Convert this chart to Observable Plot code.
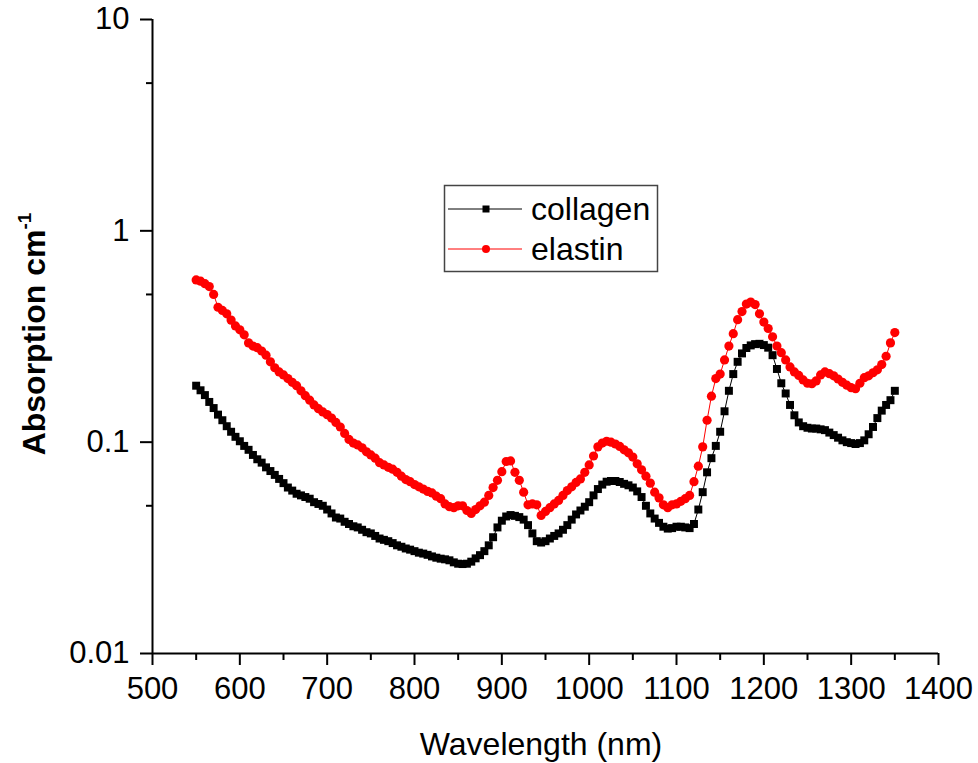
<!DOCTYPE html>
<html>
<head>
<meta charset="utf-8">
<script src="https://cdn.jsdelivr.net/npm/d3@7"></script>
<script src="https://cdn.jsdelivr.net/npm/@observablehq/plot@0.6"></script>
<style>
  html, body { margin: 0; padding: 0; background: white; overflow: hidden; }
  #chart { position: relative; width: 978px; height: 763px; }
</style>
</head>
<body>
<div id="chart"></div>
<script>
// ---- data ----
const wavelength = [
  550,555,560,565,570,575,580,585,590,595,
  600,605,610,615,620,625,630,635,640,645,
  650,655,660,665,670,675,680,685,690,695,
  700,705,710,715,720,725,730,735,740,745,
  750,755,760,765,770,775,780,785,790,795,
  800,805,810,815,820,825,830,835,840,845,
  850,855,860,865,870,875,880,885,890,895,
  900,905,910,915,920,925,930,935,940,945,
  950,955,960,965,970,975,980,985,990,995,
  1000,1005,1010,1015,1020,1025,1030,1035,1040,1045,
  1050,1055,1060,1065,1070,1075,1080,1085,1090,1095,
  1100,1105,1110,1115,1120,1125,1130,1135,1140,1145,
  1150,1155,1160,1165,1170,1175,1180,1185,1190,1195,
  1200,1205,1210,1215,1220,1225,1230,1235,1240,1245,
  1250,1255,1260,1265,1270,1275,1280,1285,1290,1295,
  1300,1305,1310,1315,1320,1325,1330,1335,1340,1345,
  1350
];
const collagen = [
  0.185,0.176,0.167,0.155,0.145,0.135,0.127,0.119,0.112,0.106,
  0.101,0.096,0.092,0.087,0.083,0.080,0.076,0.073,0.070,0.067,
  0.064,0.061,0.059,0.057,0.056,0.055,0.054,0.052,0.051,0.050,
  0.048,0.046,0.044,0.0435,0.042,0.041,0.040,0.0395,0.0385,0.0375,
  0.037,0.036,0.035,0.0345,0.034,0.0333,0.0325,0.032,0.0314,0.031,
  0.0305,0.030,0.0297,0.0293,0.0288,0.0284,0.0281,0.0279,0.0276,0.0270,
  0.0266,0.0265,0.0266,0.0272,0.0282,0.0292,0.0305,0.0325,0.0355,0.0395,
  0.0425,0.0445,0.0452,0.0448,0.0442,0.0430,0.0405,0.0370,0.0340,0.0335,
  0.0340,0.0350,0.0360,0.0370,0.0385,0.0405,0.0430,0.0455,0.0475,0.0495,
  0.052,0.056,0.060,0.063,0.065,0.0655,0.0655,0.0648,0.0635,0.0625,
  0.0610,0.0585,0.0550,0.0500,0.0460,0.0435,0.0415,0.0398,0.0390,0.0392,
  0.0398,0.0398,0.0395,0.0392,0.0410,0.0480,0.0580,0.0720,0.0840,0.0960,
  0.112,0.140,0.175,0.210,0.240,0.263,0.279,0.287,0.291,0.292,
  0.288,0.280,0.258,0.222,0.190,0.170,0.150,0.134,0.124,0.119,
  0.117,0.116,0.116,0.115,0.114,0.111,0.108,0.105,0.102,0.100,
  0.099,0.098,0.099,0.102,0.109,0.118,0.130,0.141,0.150,0.158,
  0.175
];
const elastin = [
  0.586,0.578,0.562,0.545,0.500,0.435,0.420,0.405,0.378,0.355,
  0.340,0.322,0.295,0.285,0.280,0.270,0.258,0.240,0.225,0.215,
  0.208,0.200,0.192,0.185,0.175,0.166,0.158,0.150,0.144,0.139,
  0.135,0.130,0.124,0.118,0.110,0.103,0.099,0.097,0.094,0.090,
  0.087,0.084,0.080,0.078,0.076,0.0745,0.072,0.069,0.0665,0.065,
  0.063,0.0615,0.060,0.0585,0.0575,0.0555,0.054,0.051,0.0495,0.0490,
  0.0500,0.0500,0.0475,0.0460,0.0480,0.0500,0.0520,0.0560,0.0610,0.0660,
  0.0725,0.0810,0.0815,0.0720,0.0660,0.0580,0.0505,0.0510,0.0505,0.0450,
  0.0470,0.0490,0.0510,0.0530,0.0560,0.0590,0.0615,0.0645,0.0670,0.0720,
  0.0780,0.0860,0.0950,0.0990,0.1010,0.1000,0.0980,0.0955,0.0920,0.0890,
  0.0850,0.0790,0.0740,0.0690,0.0640,0.0580,0.0545,0.0505,0.0490,0.0505,
  0.0510,0.0525,0.0540,0.0560,0.0650,0.0770,0.0950,0.1270,0.1650,0.2000,
  0.210,0.245,0.285,0.326,0.380,0.415,0.450,0.460,0.448,0.405,
  0.370,0.345,0.315,0.285,0.265,0.245,0.227,0.215,0.207,0.197,
  0.190,0.189,0.195,0.208,0.215,0.211,0.206,0.199,0.192,0.186,
  0.181,0.179,0.190,0.202,0.206,0.213,0.220,0.233,0.255,0.295,
  0.330
];
const seriesNames = ["collagen", "elastin"];
const seriesColors = ["#000000", "#ff0000"];
const xTicks = [500,600,700,800,900,1000,1100,1200,1300,1400];
const xMinorTicks = [550,650,750,850,950,1050,1150,1250,1350];
const yTicks = [0.01, 0.1, 1, 10];
const yTickLabels = ["0.01", "0.1", "1", "10"];
const yMinorTicks = [0.05, 0.5, 5];
const xLabel = "Wavelength (nm)";
const yLabelMain = "Absorption cm";
const yLabelSup = "-1";

// ---- build ----
const collagenData = wavelength.map((w, i) => ({w, v: collagen[i]}));
const elastinData = wavelength.map((w, i) => ({w, v: elastin[i]}));

const font = "'Liberation Sans', Arial, sans-serif";

const svg = Plot.plot({
  width: 978,
  height: 763,
  marginLeft: 152,
  marginRight: 40,
  marginTop: 19,
  marginBottom: 110,
  style: {fontFamily: font, fontSize: "30px", color: "black", background: "white"},
  x: {domain: [500, 1400]},
  y: {type: "log", domain: [0.01, 10]},
  marks: [
    Plot.axisX({ticks: xMinorTicks, tickSize: 7, tickFormat: () => "", strokeWidth: 2, label: null}),
    Plot.axisX({ticks: xTicks, tickSize: 12, tickPadding: 11, tickFormat: d => String(d), strokeWidth: 2, label: null, fontSize: 31}),
    Plot.axisY({ticks: yMinorTicks, tickSize: 6, tickFormat: () => "", strokeWidth: 2, label: null}),
    Plot.axisY({ticks: yTicks, tickSize: 12, tickPadding: 11, tickFormat: d => yTickLabels[yTicks.indexOf(d)], strokeWidth: 2, label: null, fontSize: 31}),
    Plot.ruleX([500], {strokeWidth: 2}),
    Plot.ruleY([0.01], {strokeWidth: 2}),
    Plot.line(collagenData, {x: "w", y: "v", stroke: seriesColors[0], strokeWidth: 1}),
    Plot.dot(collagenData, {x: "w", y: "v", symbol: "square", fill: seriesColors[0], r: 4.5}),
    Plot.line(elastinData, {x: "w", y: "v", stroke: seriesColors[1], strokeWidth: 1}),
    Plot.dot(elastinData, {x: "w", y: "v", symbol: "circle", fill: seriesColors[1], r: 4.6})
  ]
});

document.getElementById("chart").appendChild(svg);

const s = d3.select(svg);

// axis titles
s.append("text")
  .attr("x", 541).attr("y", 755)
  .attr("text-anchor", "middle")
  .attr("font-family", font)
  .attr("font-size", 32)
  .attr("fill", "black")
  .text(xLabel);

const yl = s.append("text")
  .attr("transform", "translate(45,334) rotate(-90)")
  .attr("text-anchor", "middle")
  .attr("font-family", font)
  .attr("font-size", 32)
  .attr("font-weight", "bold")
  .attr("fill", "black");
yl.append("tspan").text(yLabelMain);
yl.append("tspan").attr("font-size", 19).attr("dy", -14).text(yLabelSup);

// legend
const lg = s.append("g");
lg.append("rect")
  .attr("x", 444.5).attr("y", 185.5).attr("width", 213).attr("height", 86)
  .attr("fill", "white").attr("stroke", "#444").attr("stroke-width", 1.5);
seriesNames.forEach((name, i) => {
  const cy = 209 + i * 40;
  lg.append("line")
    .attr("x1", 448).attr("x2", 522).attr("y1", cy).attr("y2", cy)
    .attr("stroke", seriesColors[i]).attr("stroke-width", 1);
  if (i === 0) {
    lg.append("rect").attr("x", 482.5).attr("y", cy - 3.5).attr("width", 7).attr("height", 7)
      .attr("fill", seriesColors[i]);
  } else {
    lg.append("circle").attr("cx", 486).attr("cy", cy).attr("r", 4)
      .attr("fill", seriesColors[i]);
  }
  lg.append("text")
    .attr("x", 531).attr("y", cy + 11)
    .attr("text-anchor", "start")
    .attr("font-family", font)
    .attr("font-size", 32)
    .attr("fill", "black")
    .text(name);
});
</script>
</body>
</html>
